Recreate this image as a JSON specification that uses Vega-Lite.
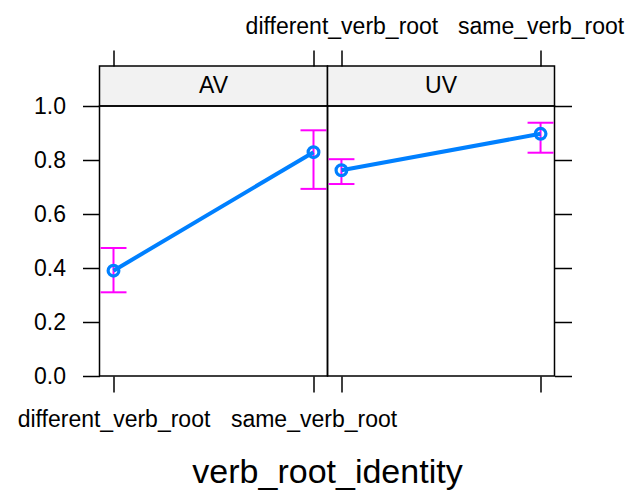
{
  "$schema": "https://vega.github.io/schema/vega-lite/v6.json",
  "padding": {"left": 15.5, "top": 14, "right": 0, "bottom": 0},
  "bounds": "flush",
  "spacing": 0,
  "columns": 2,
  "datasets": {
    "effects": [
      {"panel": "AV", "verb": "different_verb_root", "fit": 0.39, "lower": 0.31, "upper": 0.474},
      {"panel": "AV", "verb": "same_verb_root", "fit": 0.829, "lower": 0.693, "upper": 0.91},
      {"panel": "UV", "verb": "different_verb_root", "fit": 0.762, "lower": 0.711, "upper": 0.803},
      {"panel": "UV", "verb": "same_verb_root", "fit": 0.897, "lower": 0.827, "upper": 0.938}
    ],
    "strips": [{"panel": "AV"}, {"panel": "UV"}]
  },
  "concat": [
    {
      "width": 228,
      "height": 40,
      "view": {"fill": "#f2f2f2", "stroke": "black", "strokeWidth": 1.5},
      "layer": [
        {
          "data": {"name": "effects"},
          "transform": [{"filter": "datum.panel === 'AV'"}],
          "mark": {"type": "point", "opacity": 0},
          "encoding": {
            "x": {
              "field": "verb", "type": "nominal",
              "scale": {"type": "point", "padding": 0.07, "domain": ["different_verb_root", "same_verb_root"]},
              "axis": {"orient": "top", "labels": false, "ticks": true, "tickSize": 16, "tickWidth": 1.5, "tickColor": "black", "domain": false, "title": null}
            }
          }
        },
        {
          "data": {"name": "strips"},
          "transform": [{"filter": "datum.panel === 'AV'"}],
          "mark": {"type": "text", "fontSize": 23, "color": "black", "baseline": "middle", "align": "center", "font": "Liberation Sans"},
          "encoding": {"text": {"field": "panel"}}
        }
      ]
    },
    {
      "width": 227,
      "height": 40,
      "view": {"fill": "#f2f2f2", "stroke": "black", "strokeWidth": 1.5},
      "layer": [
        {
          "data": {"name": "effects"},
          "transform": [{"filter": "datum.panel === 'UV'"}],
          "mark": {"type": "point", "opacity": 0},
          "encoding": {
            "x": {
              "field": "verb", "type": "nominal",
              "scale": {"type": "point", "padding": 0.07, "domain": ["different_verb_root", "same_verb_root"]},
              "axis": {"orient": "top", "labels": true, "labelAngle": 0, "labelFontSize": 23, "labelColor": "black", "labelBaseline": "alphabetic", "labelPadding": 16.5, "labelLimit": 0, "labelOverlap": false, "labelFont": "Liberation Sans", "ticks": true, "tickSize": 16, "tickWidth": 1.5, "tickColor": "black", "domain": false, "title": null}
            }
          }
        },
        {
          "data": {"name": "strips"},
          "transform": [{"filter": "datum.panel === 'UV'"}],
          "mark": {"type": "text", "fontSize": 23, "color": "black", "baseline": "middle", "align": "center", "font": "Liberation Sans"},
          "encoding": {"text": {"field": "panel"}}
        }
      ]
    },
    {
      "width": 228,
      "height": 270,
      "view": {"stroke": "black", "strokeWidth": 1.5},
      "data": {"name": "effects"},
      "transform": [{"filter": "datum.panel === 'AV'"}],
      "encoding": {
        "x": {
          "field": "verb", "type": "nominal",
          "scale": {"type": "point", "padding": 0.07, "domain": ["different_verb_root", "same_verb_root"]},
          "axis": {"orient": "bottom", "labelAngle": 0, "labelFontSize": 23, "labelColor": "black", "labelBaseline": "alphabetic", "labelPadding": 34, "labelLimit": 0, "labelOverlap": false, "labelFont": "Liberation Sans", "tickSize": 16, "tickWidth": 1.5, "tickColor": "black", "domain": false,
            "title": "verb_root_identity", "titleFont": "Liberation Sans", "titleFontSize": 34, "titleFontWeight": "normal", "titleColor": "black", "titleX": 227.5, "titleY": 106, "titleBaseline": "alphabetic", "titleAlign": "center"}
        }
      },
      "layer": [
        {
          "mark": {"type": "rule", "color": "#ff00ff", "strokeWidth": 2},
          "encoding": {
            "y": {"field": "lower", "type": "quantitative", "scale": {"domain": [0, 1]},
              "axis": {"orient": "left", "values": [0, 0.2, 0.4, 0.6, 0.8, 1], "format": ".1f", "tickSize": 17, "tickWidth": 1.5, "tickColor": "black", "labelPadding": 17, "labelFontSize": 23, "labelColor": "black", "labelFont": "Liberation Sans", "labelOverlap": false, "domain": false, "grid": false, "title": null}},
            "y2": {"field": "upper"}
          }
        },
        {
          "mark": {"type": "tick", "orient": "horizontal", "color": "#ff00ff", "size": 26, "thickness": 2, "opacity": 1},
          "encoding": {"y": {"field": "lower", "type": "quantitative", "title": null}}
        },
        {
          "mark": {"type": "tick", "orient": "horizontal", "color": "#ff00ff", "size": 26, "thickness": 2, "opacity": 1},
          "encoding": {"y": {"field": "upper", "type": "quantitative", "title": null}}
        },
        {
          "mark": {"type": "line", "color": "#0080ff", "strokeWidth": 4},
          "encoding": {"y": {"field": "fit", "type": "quantitative", "title": null}}
        },
        {
          "mark": {"type": "point", "shape": "circle", "filled": false, "color": "#0080ff", "strokeWidth": 3.2, "size": 115, "opacity": 1},
          "encoding": {"y": {"field": "fit", "type": "quantitative", "title": null}}
        }
      ]
    },
    {
      "width": 227,
      "height": 270,
      "view": {"stroke": "black", "strokeWidth": 1.5},
      "data": {"name": "effects"},
      "transform": [{"filter": "datum.panel === 'UV'"}],
      "encoding": {
        "x": {
          "field": "verb", "type": "nominal",
          "scale": {"type": "point", "padding": 0.07, "domain": ["different_verb_root", "same_verb_root"]},
          "axis": {"orient": "bottom", "labels": false, "tickSize": 16, "tickWidth": 1.5, "tickColor": "black", "domain": false, "title": null}
        }
      },
      "layer": [
        {
          "mark": {"type": "rule", "color": "#ff00ff", "strokeWidth": 2},
          "encoding": {
            "y": {"field": "lower", "type": "quantitative", "scale": {"domain": [0, 1]},
              "axis": {"orient": "right", "values": [0, 0.2, 0.4, 0.6, 0.8, 1], "labels": false, "tickSize": 17, "tickWidth": 1.5, "tickColor": "black", "domain": false, "grid": false, "title": null}},
            "y2": {"field": "upper"}
          }
        },
        {
          "mark": {"type": "tick", "orient": "horizontal", "color": "#ff00ff", "size": 26, "thickness": 2, "opacity": 1},
          "encoding": {"y": {"field": "lower", "type": "quantitative", "title": null}}
        },
        {
          "mark": {"type": "tick", "orient": "horizontal", "color": "#ff00ff", "size": 26, "thickness": 2, "opacity": 1},
          "encoding": {"y": {"field": "upper", "type": "quantitative", "title": null}}
        },
        {
          "mark": {"type": "line", "color": "#0080ff", "strokeWidth": 4},
          "encoding": {"y": {"field": "fit", "type": "quantitative", "title": null}}
        },
        {
          "mark": {"type": "point", "shape": "circle", "filled": false, "color": "#0080ff", "strokeWidth": 3.2, "size": 115, "opacity": 1},
          "encoding": {"y": {"field": "fit", "type": "quantitative", "title": null}}
        }
      ]
    }
  ],
  "config": {
    "font": "Liberation Sans",
    "view": {"stroke": null}
  }
}
